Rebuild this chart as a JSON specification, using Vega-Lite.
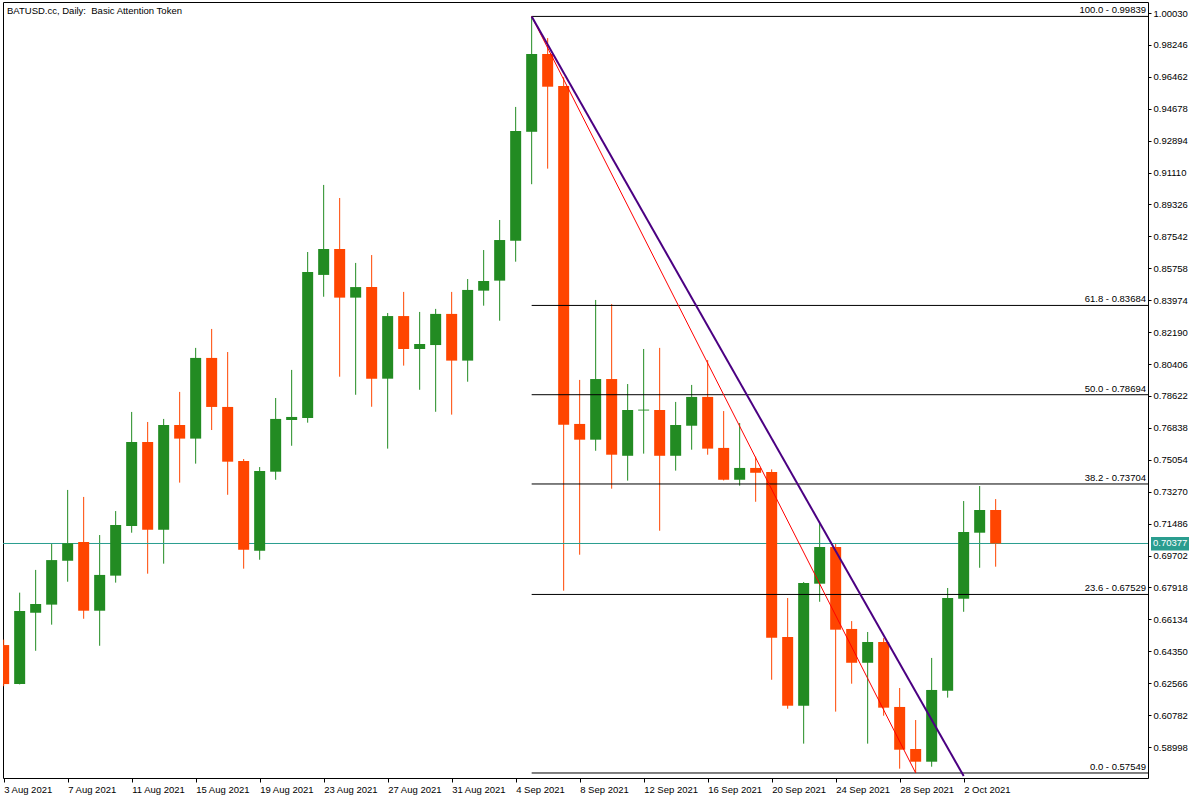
{
  "$schema": "https://vega.github.io/schema/vega-lite/v6.json",
  "width": 1145,
  "height": 776,
  "padding": {"left": 2, "top": 2, "right": 5, "bottom": 2},
  "background": "white",
  "config": {
    "view": {"stroke": "black", "strokeWidth": 1},
    "font": "Liberation Sans",
    "axis": {"labelOverlap": false, "labelFlush": false, "labelBound": false, "grid": false, "domain": false, "title": null}
  },
  "title": {
    "text": "BATUSD.cc, Daily:\u00a0 Basic Attention Token",
    "anchor": "start",
    "frame": "group",
    "orient": "top",
    "offset": -13,
    "dx": 4,
    "fontSize": 9.5,
    "fontWeight": "normal",
    "font": "Liberation Sans",
    "color": "black"
  },
  "datasets": {
    "candles": [
      {"date": "2021-08-03", "open": 0.6470, "high": 0.6500, "low": 0.6240, "close": 0.6252},
      {"date": "2021-08-04", "open": 0.6252, "high": 0.6763, "low": 0.6250, "close": 0.6660},
      {"date": "2021-08-05", "open": 0.6651, "high": 0.6890, "low": 0.6438, "close": 0.6700},
      {"date": "2021-08-06", "open": 0.6696, "high": 0.7037, "low": 0.6584, "close": 0.6945},
      {"date": "2021-08-07", "open": 0.6941, "high": 0.7337, "low": 0.6824, "close": 0.7039},
      {"date": "2021-08-08", "open": 0.7046, "high": 0.7298, "low": 0.6617, "close": 0.6662},
      {"date": "2021-08-09", "open": 0.6662, "high": 0.7085, "low": 0.6466, "close": 0.6862},
      {"date": "2021-08-10", "open": 0.6858, "high": 0.7219, "low": 0.6819, "close": 0.7141},
      {"date": "2021-08-11", "open": 0.7135, "high": 0.7773, "low": 0.7098, "close": 0.7605},
      {"date": "2021-08-12", "open": 0.7605, "high": 0.7717, "low": 0.6869, "close": 0.7115},
      {"date": "2021-08-13", "open": 0.7115, "high": 0.7734, "low": 0.6925, "close": 0.7700},
      {"date": "2021-08-14", "open": 0.7700, "high": 0.7885, "low": 0.7378, "close": 0.7624},
      {"date": "2021-08-15", "open": 0.7624, "high": 0.8131, "low": 0.7484, "close": 0.8075},
      {"date": "2021-08-16", "open": 0.8075, "high": 0.8237, "low": 0.7672, "close": 0.7801},
      {"date": "2021-08-17", "open": 0.7801, "high": 0.8108, "low": 0.7310, "close": 0.7495},
      {"date": "2021-08-18", "open": 0.7499, "high": 0.7510, "low": 0.6897, "close": 0.7003},
      {"date": "2021-08-19", "open": 0.6997, "high": 0.7465, "low": 0.6947, "close": 0.7443},
      {"date": "2021-08-20", "open": 0.7439, "high": 0.7851, "low": 0.7394, "close": 0.7734},
      {"date": "2021-08-21", "open": 0.7728, "high": 0.8008, "low": 0.7584, "close": 0.7745},
      {"date": "2021-08-22", "open": 0.7739, "high": 0.8667, "low": 0.7713, "close": 0.8555},
      {"date": "2021-08-23", "open": 0.8539, "high": 0.9042, "low": 0.8417, "close": 0.8684},
      {"date": "2021-08-24", "open": 0.8684, "high": 0.8969, "low": 0.7970, "close": 0.8412},
      {"date": "2021-08-25", "open": 0.8412, "high": 0.8606, "low": 0.7869, "close": 0.8471},
      {"date": "2021-08-26", "open": 0.8471, "high": 0.8650, "low": 0.7802, "close": 0.7959},
      {"date": "2021-08-27", "open": 0.7959, "high": 0.8326, "low": 0.7568, "close": 0.8309},
      {"date": "2021-08-28", "open": 0.8309, "high": 0.8444, "low": 0.8032, "close": 0.8125},
      {"date": "2021-08-29", "open": 0.8125, "high": 0.8332, "low": 0.7897, "close": 0.8153},
      {"date": "2021-08-30", "open": 0.8147, "high": 0.8349, "low": 0.7774, "close": 0.8321},
      {"date": "2021-08-31", "open": 0.8321, "high": 0.8444, "low": 0.7758, "close": 0.8060},
      {"date": "2021-09-01", "open": 0.8060, "high": 0.8516, "low": 0.7942, "close": 0.8455},
      {"date": "2021-09-02", "open": 0.8451, "high": 0.8678, "low": 0.8367, "close": 0.8505},
      {"date": "2021-09-03", "open": 0.8507, "high": 0.8846, "low": 0.8283, "close": 0.8734},
      {"date": "2021-09-04", "open": 0.8730, "high": 0.9478, "low": 0.8613, "close": 0.9343},
      {"date": "2021-09-05", "open": 0.9339, "high": 0.99839, "low": 0.9046, "close": 0.9774},
      {"date": "2021-09-06", "open": 0.9774, "high": 0.9863, "low": 0.9133, "close": 0.9591},
      {"date": "2021-09-07", "open": 0.9595, "high": 0.9644, "low": 0.6774, "close": 0.7702},
      {"date": "2021-09-08", "open": 0.7706, "high": 0.7952, "low": 0.6975, "close": 0.7618},
      {"date": "2021-09-09", "open": 0.7618, "high": 0.8399, "low": 0.7556, "close": 0.7957},
      {"date": "2021-09-10", "open": 0.7957, "high": 0.8376, "low": 0.7344, "close": 0.7534},
      {"date": "2021-09-11", "open": 0.7528, "high": 0.7929, "low": 0.7389, "close": 0.7784},
      {"date": "2021-09-12", "open": 0.7781, "high": 0.8125, "low": 0.7540, "close": 0.7786},
      {"date": "2021-09-13", "open": 0.7784, "high": 0.8131, "low": 0.7109, "close": 0.7528},
      {"date": "2021-09-14", "open": 0.7528, "high": 0.7829, "low": 0.7445, "close": 0.7700},
      {"date": "2021-09-15", "open": 0.7696, "high": 0.7924, "low": 0.7562, "close": 0.7857},
      {"date": "2021-09-16", "open": 0.7857, "high": 0.8063, "low": 0.7534, "close": 0.7568},
      {"date": "2021-09-17", "open": 0.7572, "high": 0.7778, "low": 0.7390, "close": 0.7394},
      {"date": "2021-09-18", "open": 0.7394, "high": 0.7711, "low": 0.7361, "close": 0.7460},
      {"date": "2021-09-19", "open": 0.7460, "high": 0.7523, "low": 0.7271, "close": 0.7433},
      {"date": "2021-09-20", "open": 0.7437, "high": 0.7452, "low": 0.6276, "close": 0.6511},
      {"date": "2021-09-21", "open": 0.6515, "high": 0.6733, "low": 0.6114, "close": 0.6131},
      {"date": "2021-09-22", "open": 0.6131, "high": 0.6822, "low": 0.5919, "close": 0.6817},
      {"date": "2021-09-23", "open": 0.6813, "high": 0.7152, "low": 0.6712, "close": 0.7018},
      {"date": "2021-09-24", "open": 0.7018, "high": 0.7035, "low": 0.6098, "close": 0.6556},
      {"date": "2021-09-25", "open": 0.6560, "high": 0.6604, "low": 0.6254, "close": 0.6371},
      {"date": "2021-09-26", "open": 0.6371, "high": 0.6543, "low": 0.5919, "close": 0.6487},
      {"date": "2021-09-27", "open": 0.6487, "high": 0.6509, "low": 0.6075, "close": 0.6120},
      {"date": "2021-09-28", "open": 0.6124, "high": 0.6230, "low": 0.5779, "close": 0.5885},
      {"date": "2021-09-29", "open": 0.5889, "high": 0.6051, "low": 0.57549, "close": 0.5818},
      {"date": "2021-09-30", "open": 0.5818, "high": 0.6398, "low": 0.5790, "close": 0.6219},
      {"date": "2021-10-01", "open": 0.6215, "high": 0.6789, "low": 0.6176, "close": 0.6733},
      {"date": "2021-10-02", "open": 0.6729, "high": 0.7275, "low": 0.6656, "close": 0.7102},
      {"date": "2021-10-03", "open": 0.7098, "high": 0.7359, "low": 0.6902, "close": 0.7225},
      {"date": "2021-10-04", "open": 0.7225, "high": 0.7286, "low": 0.6908, "close": 0.70377}
    ],
    "fib": [
      {"label": "100.0 - 0.99839", "price": 0.99839},
      {"label": "61.8 - 0.83684", "price": 0.83684},
      {"label": "50.0 - 0.78694", "price": 0.78694},
      {"label": "38.2 - 0.73704", "price": 0.73704},
      {"label": "23.6 - 0.67529", "price": 0.67529},
      {"label": "0.0 - 0.57549", "price": 0.57549}
    ],
    "lines": [
      {"line": "fibo", "d1": "2021-09-05", "p1": 0.99839, "d2": "2021-09-29", "p2": 0.57549},
      {"line": "trend", "d1": "2021-09-05", "p1": 0.99839, "d2": "2021-10-02", "p2": 0.5738}
    ],
    "last": [
      {"price": 0.70377}
    ]
  },
  "layer": [
    {
      "data": {"name": "candles"},
      "mark": {"type": "rule", "strokeWidth": 1, "clip": true},
      "encoding": {
        "x": {
          "field": "date",
          "type": "temporal",
          "scale": {
            "type": "utc",
            "padding": 0,
            "domain": [
              {"year": 2021, "month": "aug", "date": 2, "hours": 23, "utc": true},
              {"year": 2021, "month": "oct", "date": 13, "hours": 12, "minutes": 30, "utc": true}
            ]
          },
          "axis": {
            "orient": "bottom",
            "title": null,
            "values": [
              {"year": 2021, "month": "aug", "date": 3, "utc": true},
              {"year": 2021, "month": "aug", "date": 7, "utc": true},
              {"year": 2021, "month": "aug", "date": 11, "utc": true},
              {"year": 2021, "month": "aug", "date": 15, "utc": true},
              {"year": 2021, "month": "aug", "date": 19, "utc": true},
              {"year": 2021, "month": "aug", "date": 23, "utc": true},
              {"year": 2021, "month": "aug", "date": 27, "utc": true},
              {"year": 2021, "month": "aug", "date": 31, "utc": true},
              {"year": 2021, "month": "sep", "date": 4, "utc": true},
              {"year": 2021, "month": "sep", "date": 8, "utc": true},
              {"year": 2021, "month": "sep", "date": 12, "utc": true},
              {"year": 2021, "month": "sep", "date": 16, "utc": true},
              {"year": 2021, "month": "sep", "date": 20, "utc": true},
              {"year": 2021, "month": "sep", "date": 24, "utc": true},
              {"year": 2021, "month": "sep", "date": 28, "utc": true},
              {"year": 2021, "month": "oct", "date": 2, "utc": true}
            ],
            "tickCount": 40,
            "labelExpr": "utcFormat(datum.value, '%-d %b %Y')",
            "labelAlign": "left",
            "labelBaseline": "top",
            "labelPadding": 2,
            "labelFlush": false,
            "labelOverlap": false,
            "labelBound": false,
            "labelFont": "Liberation Sans",
            "labelFontSize": 9.5,
            "labelColor": "black",
            "tickSize": 4,
            "tickColor": "black",
            "domain": false,
            "grid": false
          }
        },
        "y": {
          "field": "low",
          "type": "quantitative",
          "scale": {"domain": [0.57269, 1.00645], "zero": false, "nice": false, "padding": 0},
          "axis": {
            "orient": "right",
            "title": null,
            "values": [1.0003, 0.98246, 0.96462, 0.94678, 0.92894, 0.9111, 0.89326, 0.87542, 0.85758, 0.83974, 0.8219, 0.80406, 0.78622, 0.76838, 0.75054, 0.7327, 0.71486, 0.69702, 0.67918, 0.66134, 0.6435, 0.62566, 0.60782, 0.58998],
            "tickCount": 40,
            "labelExpr": "format(datum.value, '.5f')",
            "labelPadding": 2,
            "labelFlush": false,
            "labelOverlap": false,
            "labelBound": false,
            "labelFont": "Liberation Sans",
            "labelFontSize": 9.5,
            "labelColor": "black",
            "tickSize": 3,
            "tickColor": "black",
            "domain": false,
            "grid": false
          }
        },
        "y2": {"field": "high"},
        "color": {
          "condition": {"test": "datum.close > datum.open", "value": "#228B22"},
          "value": "#FF4500"
        }
      }
    },
    {
      "data": {"name": "last"},
      "mark": {"type": "rule", "color": "#2A9D8F", "strokeWidth": 1},
      "encoding": {
        "y": {"field": "price", "type": "quantitative"}
      }
    },
    {
      "data": {"name": "candles"},
      "mark": {"type": "bar", "width": 11, "clip": true},
      "encoding": {
        "x": {"field": "date", "type": "temporal"},
        "y": {"field": "open", "type": "quantitative"},
        "y2": {"field": "close"},
        "color": {
          "condition": {"test": "datum.close > datum.open", "value": "#228B22"},
          "value": "#FF4500"
        }
      }
    },
    {
      "data": {"name": "fib"},
      "mark": {"type": "rule", "color": "black", "strokeWidth": 1},
      "encoding": {
        "x": {"datum": {"year": 2021, "month": "sep", "date": 5, "utc": true}, "type": "temporal"},
        "x2": {"datum": {"year": 2021, "month": "oct", "date": 13, "hours": 12, "minutes": 30, "utc": true}},
        "y": {"field": "price", "type": "quantitative"}
      }
    },
    {
      "data": {"name": "fib"},
      "mark": {"type": "text", "align": "right", "baseline": "alphabetic", "dx": -2, "dy": -3, "fontSize": 9.5, "font": "Liberation Sans", "color": "black"},
      "encoding": {
        "x": {"datum": {"year": 2021, "month": "oct", "date": 13, "hours": 12, "minutes": 30, "utc": true}, "type": "temporal"},
        "y": {"field": "price", "type": "quantitative"},
        "text": {"field": "label"}
      }
    },
    {
      "data": {"name": "lines"},
      "transform": [{"filter": "datum.line == 'fibo'"}],
      "mark": {"type": "rule", "color": "#FF0000", "strokeWidth": 1, "clip": true},
      "encoding": {
        "x": {"field": "d1", "type": "temporal"},
        "x2": {"field": "d2"},
        "y": {"field": "p1", "type": "quantitative"},
        "y2": {"field": "p2"}
      }
    },
    {
      "data": {"name": "lines"},
      "transform": [{"filter": "datum.line == 'trend'"}],
      "mark": {"type": "rule", "color": "#4B0082", "strokeWidth": 2, "clip": true},
      "encoding": {
        "x": {"field": "d1", "type": "temporal"},
        "x2": {"field": "d2"},
        "y": {"field": "p1", "type": "quantitative"},
        "y2": {"field": "p2"}
      }
    },
    {
      "data": {"name": "last"},
      "mark": {"type": "rect", "color": "#2A9D8F", "clip": false},
      "encoding": {
        "x": {"datum": {"year": 2021, "month": "oct", "date": 13, "hours": 17, "utc": true}, "type": "temporal"},
        "x2": {"datum": {"year": 2021, "month": "oct", "date": 16, "hours": 2, "utc": true}},
        "y": {"datum": 0.7074, "type": "quantitative"},
        "y2": {"datum": 0.6999}
      }
    },
    {
      "data": {"name": "last"},
      "mark": {"type": "text", "align": "left", "baseline": "middle", "dx": 5, "fontSize": 9.5, "font": "Liberation Sans", "color": "white", "clip": false},
      "encoding": {
        "x": {"datum": {"year": 2021, "month": "oct", "date": 13, "hours": 12, "minutes": 30, "utc": true}, "type": "temporal"},
        "y": {"field": "price", "type": "quantitative"},
        "text": {"field": "price", "format": ".5f"}
      }
    }
  ]
}
